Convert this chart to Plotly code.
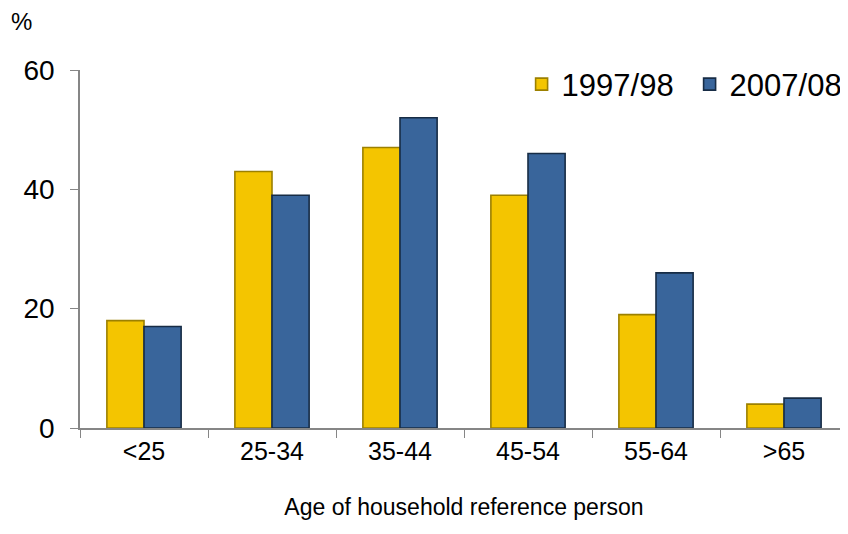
import plotly.graph_objects as go

categories = ["<25", "25-34", "35-44", "45-54", "55-64", ">65"]
values_1997 = [18, 43, 47, 39, 19, 4]
values_2007 = [17, 39, 52, 46, 26, 5]
series_names = ["1997/98", "2007/08"]
y_ticks = [0, 20, 40, 60]

FONT = "Liberation Sans, Arial, sans-serif"

fig = go.Figure()
fig.add_trace(go.Bar(
    x=categories, y=values_1997, name=series_names[0],
    marker=dict(color="#F4C500", line=dict(color="#9C8000", width=1.6)),
))
fig.add_trace(go.Bar(
    x=categories, y=values_2007, name=series_names[1],
    marker=dict(color="#39659B", line=dict(color="#172C45", width=1.6)),
))

fig.update_layout(
    width=840, height=526,
    margin=dict(l=72, r=0, t=62, b=106, autoexpand=False),
    paper_bgcolor="white", plot_bgcolor="white",
    barmode="group", bargap=0.42, bargroupgap=0,
    font=dict(family=FONT, color="black"),
    showlegend=True,
    legend=dict(orientation="h", x=0.575, y=1.035, xanchor="left", yanchor="top",
                font=dict(size=31, family=FONT), bgcolor="rgba(0,0,0,0)",
                itemwidth=30, tracegroupgap=0,
                entrywidth=123, entrywidthmode="pixels"),
    xaxis=dict(
        type="category", tickson="boundaries", ticks="outside", ticklen=8,
        tickcolor="#868686", showline=True, linecolor="#868686", linewidth=1.5,
        tickfont=dict(size=25, family=FONT), showgrid=False,
        title=dict(text="Age of household reference person", font=dict(size=23, family=FONT), standoff=35),
        range=[-0.5, 5.5],
    ),
    yaxis=dict(
        range=[0, 60], tickvals=y_ticks, ticks="outside", ticklen=8,
        tickcolor="#868686", showline=True, linecolor="#868686", linewidth=1.5,
        tickfont=dict(size=28, family=FONT), showgrid=False, zeroline=False,
        ticklabelstandoff=10,
    ),
    annotations=[dict(text="%", xref="paper", yref="paper", x=-0.093, y=1.135,
                      xanchor="left", yanchor="middle", showarrow=False,
                      font=dict(size=24, family=FONT))],
)

fig.write_html("out.html")
